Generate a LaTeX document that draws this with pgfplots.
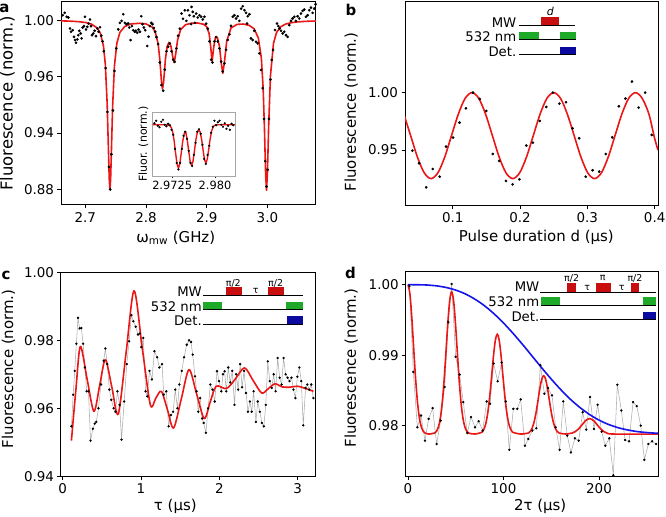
\documentclass[border=0pt]{standalone}
\usepackage{fontspec}
\setmainfont{DejaVu Sans}
\usepackage{pgfplots}
\pgfplotsset{compat=1.18}

\definecolor{fitred}{RGB}{235,22,22}
\definecolor{envblue}{RGB}{20,20,235}
\definecolor{pulsered}{RGB}{200,14,14}
\definecolor{pulsegreen}{RGB}{30,170,40}
\definecolor{pulseblue}{RGB}{10,10,160}
\newcommand\pl{\fontsize{13.3}{15}\selectfont}
\newcommand\ps{\fontsize{9.5}{11}\selectfont}

\pgfplotsset{
  panel/.style={
    scale only axis, anchor=south west,
    axis line style={line width=1bp},
    tick style={line width=0.8bp, black},
    major tick length=3.5bp,
    tick align=outside,
    xtick pos=bottom, ytick pos=left,
    tick label style={font=\fontsize{13.5}{16}\selectfont},
    label style={font=\fontsize{15}{18}\selectfont},
  },
  fit/.style={fitred, line width=1.6bp, no marks, line join=round},
  dots/.style={only marks, mark=*, mark size=1.15bp, mark options={fill=black, draw=black}},
  trace/.style={gray!65, line width=0.55bp, mark=*, mark size=0.9bp, mark options={fill=black, draw=black}},
}

\begin{document}
\begin{tikzpicture}
\useasboundingbox (0,0) rectangle (666bp,517bp);

% ---------------- panel a ----------------
\begin{axis}[panel, at={(61bp,312bp)}, width=255bp, height=203bp,
  xmin=2.66, xmax=3.08, ymin=0.869, ymax=1.0129,
  xtick={2.7,2.8,2.9,3.0}, xticklabels={2.7,2.8,2.9,3.0},
  ytick={0.88,0.92,0.96,1.00}, yticklabels={0.88,0.94,0.96,1.00},
  xlabel={ω\textsubscript{mw} (GHz)}, ylabel={Fluorescence (norm.)},
  xlabel style={at={(axis description cs:0.45,-0.161)}, anchor=center},
  ylabel style={at={(axis description cs:-0.21,0.5)}, anchor=center, font=\fontsize{16.5}{19}\selectfont},
]
\addplot[fit] coordinates {
  (2.66,0.99952) (2.67,0.9994) (2.68,0.99921) (2.69,0.99891) (2.70,0.99838)
  (2.71,0.99728) (2.72,0.99434) (2.725,0.9906) (2.73,0.98151) (2.733,0.96872)
  (2.736,0.94129) (2.738,0.9101) (2.7395,0.88691) (2.7406,0.88017) (2.7417,0.88691)
  (2.743,0.90665) (2.745,0.93862) (2.748,0.96748) (2.752,0.98363) (2.757,0.99135)
  (2.765,0.99555) (2.775,0.99731) (2.79,0.99783) (2.80,0.99732) (2.81,0.99518)
  (2.815,0.992) (2.82,0.98331) (2.823,0.97095) (2.8255,0.95624) (2.8272,0.95117)
  (2.829,0.95619) (2.832,0.97237) (2.835,0.98163) (2.838,0.98432) (2.841,0.98182)
  (2.844,0.9741) (2.8464,0.96996) (2.849,0.97625) (2.852,0.9859) (2.857,0.99331)
  (2.865,0.99676) (2.875,0.99788) (2.885,0.99799) (2.895,0.9971) (2.90,0.99533)
  (2.904,0.99049) (2.9065,0.98133) (2.9089,0.97065) (2.9115,0.98084) (2.9145,0.9881)
  (2.9175,0.98787) (2.921,0.98137) (2.924,0.96936) (2.9265,0.96238) (2.929,0.96972)
  (2.933,0.98526) (2.94,0.99448) (2.95,0.99704) (2.96,0.99729) (2.97,0.99635)
  (2.978,0.99389) (2.985,0.98749) (2.99,0.97321) (2.993,0.95136) (2.995,0.9247)
  (2.997,0.89143) (2.9985,0.87943) (3.0,0.8915) (3.002,0.9247) (3.005,0.96065)
  (3.01,0.98365) (3.015,0.99129) (3.022,0.99539) (3.03,0.99725) (3.04,0.9983)
  (3.05,0.99881) (3.06,0.99911) (3.07,0.9993) (3.08,0.99942)
};
\addplot[dots] coordinates {
  (2.6628,1.0035) (2.6661,1.0052) (2.6694,1.0024) (2.6721,1.0019) (2.6748,0.9941)
  (2.6765,0.9918) (2.6792,0.9929) (2.6814,0.9882) (2.6831,0.9859) (2.6847,0.9840)
  (2.6869,0.9864) (2.6885,0.9894) (2.6902,0.9925) (2.6924,0.9906) (2.6940,0.9871)
  (2.6957,0.9948) (2.6979,0.9958) (2.6995,1.0024) (2.7011,0.9934) (2.7033,0.9953)
  (2.7055,0.9976) (2.7077,1.0005) (2.7094,0.9958) (2.7110,0.9894) (2.7132,0.9906)
  (2.7154,0.9925) (2.7176,0.9887) (2.7198,0.9941) (2.7220,0.9918) (2.7242,0.9950)
  (2.7264,0.9890) (2.7285,0.9850) (2.7305,0.9780) (2.7335,0.9660) (2.7365,0.9350)
  (2.7390,0.8960) (2.7410,0.8800) (2.7430,0.9050) (2.7455,0.9360) (2.7480,0.9640)
  (2.7510,0.9800) (2.7543,0.9935) (2.7570,0.9981) (2.7598,0.9995) (2.7625,1.0042)
  (2.7653,0.9981) (2.7680,0.9972) (2.7707,0.9977) (2.7724,0.9948) (2.7746,0.9859)
  (2.7768,0.9958) (2.7790,0.9929) (2.7817,0.9918) (2.7833,0.9925) (2.7855,0.9911)
  (2.7877,0.9934) (2.7899,0.9918) (2.7921,1.0028) (2.7943,0.9972) (2.7965,0.9948)
  (2.7987,0.9929) (2.8020,0.9817) (2.8042,0.9883) (2.8064,0.9958) (2.8086,0.9981)
  (2.8107,0.9972) (2.8129,0.9945) (2.8151,0.9918) (2.8173,0.9880) (2.8200,0.9830)
  (2.8228,0.9700) (2.8255,0.9540) (2.8283,0.9500) (2.8310,0.9650) (2.8338,0.9780)
  (2.8365,0.9812) (2.8392,0.9835) (2.8420,0.9780) (2.8447,0.9720) (2.8472,0.9705)
  (2.8500,0.9800) (2.8529,0.9890) (2.8557,0.9940) (2.8585,1.0047) (2.8610,1.0010)
  (2.8640,1.0070) (2.8665,0.9995) (2.8690,1.0070) (2.8716,1.0035) (2.8744,0.9972)
  (2.8750,1.0094) (2.8770,1.0059) (2.8788,1.0028) (2.8805,0.9981) (2.8826,1.0047)
  (2.8853,1.0019) (2.8881,1.0035) (2.8908,1.0024) (2.8936,1.0005) (2.8963,1.0024)
  (2.8990,0.9975) (2.9018,0.9940) (2.9045,0.9850) (2.9073,0.9720) (2.9095,0.9700)
  (2.9127,0.9850) (2.9155,0.9880) (2.9182,0.9850) (2.9210,0.9800) (2.9237,0.9706)
  (2.9264,0.9636) (2.9292,0.9694) (2.9319,0.9790) (2.9347,0.9860) (2.9374,0.9900)
  (2.9400,0.9960) (2.9429,1.0024) (2.9456,1.0035) (2.9484,1.0012) (2.9511,1.0028)
  (2.9538,0.9995) (2.9566,1.0082) (2.9593,1.0099) (2.9621,1.0071) (2.9648,1.0052)
  (2.9664,0.9976) (2.9675,1.0028) (2.9703,1.0042) (2.9730,0.9871) (2.9758,0.9859)
  (2.9785,0.9925) (2.9812,0.9847) (2.9840,0.9836) (2.9867,0.9765) (2.9895,0.9647)
  (2.9922,0.9518) (2.9945,0.9300) (2.9965,0.9000) (2.9985,0.8820) (3.0005,0.8940)
  (3.0025,0.9300) (3.0050,0.9580) (3.0070,0.9718) (3.0092,0.9789) (3.0125,0.9930)
  (3.0158,0.9976) (3.0180,0.9958) (3.0201,0.9941) (3.0223,0.9925) (3.0251,0.9906)
  (3.0278,0.9918) (3.0306,0.9894) (3.0333,0.9882) (3.0360,0.9965) (3.0388,0.9995)
  (3.0415,1.0012) (3.0443,1.0024) (3.0470,0.9995) (3.0497,1.0028) (3.0525,1.0012)
  (3.0552,1.0047) (3.0580,1.0066) (3.0607,1.0075) (3.0634,1.0024) (3.0662,1.0035)
  (3.0689,1.0071) (3.0717,1.0089) (3.0744,1.0052) (3.0771,1.0082) (3.0793,1.0113)
};
\end{axis}

% inset of panel a
\begin{axis}[scale only axis, anchor=south west, at={(152.7bp,341bp)},
  width=82.3bp, height=63.3bp,
  xmin=2.9691, xmax=2.9835, ymin=0, ymax=63,
  axis background/.style={fill=white},
  axis line style={gray!70, line width=0.8bp},
  tick style={line width=0.6bp, black}, major tick length=2.5bp, tick align=outside,
  xtick pos=bottom, ytick=\empty,
  xtick={2.9725,2.980}, xticklabels={2.9725,2.980},
  tick label style={font=\fontsize{11.4}{13}\selectfont},
  xticklabel style={yshift=1bp},
  ylabel={Fluor. (norm.)},
  ylabel style={at={(axis description cs:-0.114,0.505)}, anchor=center, font=\fontsize{11}{13}\selectfont},
]
\addplot[fit, line width=1.4bp] coordinates {
  (2.9691,51) (2.9710,51) (2.9716,50.97) (2.9721,50.2) (2.97235,48.3) (2.9726,43.7)
  (2.97285,35.1) (2.9731,23.2) (2.97335,12.25) (2.9736,7.7) (2.97385,12.2) (2.9741,23.1)
  (2.97435,34.5) (2.9746,41.66) (2.97475,44.43) (2.9749,43.33) (2.97515,35.83)
  (2.9754,24.88) (2.97565,14.57) (2.9759,10.3) (2.97615,14.57) (2.9764,24.88)
  (2.97665,35.86) (2.9769,43.42) (2.97715,46.09) (2.9774,43.79) (2.97765,36.73)
  (2.9779,26.42) (2.97815,16.72) (2.9784,12.7) (2.97865,16.72) (2.9789,26.45)
  (2.97915,36.91) (2.9794,44.53) (2.97965,48.62) (2.9799,50.3) (2.98015,50.84)
  (2.9804,51) (2.9835,51)
};
\addplot[dots, mark size=0.9bp] coordinates {
  (2.9694,52.5) (2.9697,55) (2.9700,50) (2.9703,48.5) (2.9706,54) (2.9709,56)
  (2.9712,51) (2.9715,49.5) (2.9718,52) (2.9721,50.5) (2.9724,46) (2.9727,41)
  (2.9730,27) (2.9733,13) (2.9736,6.5) (2.9739,13) (2.9742,27) (2.9745,40)
  (2.9748,44) (2.9751,37) (2.9754,25) (2.9757,13) (2.9760,10) (2.9763,21)
  (2.9766,33) (2.9769,44) (2.9772,46.5) (2.9775,42) (2.9778,31) (2.9781,17)
  (2.9784,12) (2.9787,21) (2.9790,30) (2.9793,43) (2.9796,49) (2.9799,55)
  (2.9802,50.5) (2.9805,53.5) (2.9808,55) (2.9811,51) (2.9814,49) (2.9817,52.5)
  (2.9820,47) (2.9823,50) (2.9826,46) (2.9829,52) (2.9832,50.5)
};
\end{axis}

% ---------------- panel b ----------------
\begin{axis}[panel, at={(405bp,311.3bp)}, width=253bp, height=203.7bp,
  xmin=0.029, xmax=0.405, ymin=0.9014, ymax=1.079,
  xtick={0.1,0.2,0.3,0.4}, xticklabels={0.1,0.2,0.3,0.4},
  ytick={0.95,1.00}, yticklabels={0.95,1.00},
  xlabel={Pulse duration d (µs)}, ylabel={Fluorescence (norm.)},
  xlabel style={at={(axis description cs:0.519,-0.155)}, anchor=center},
  ylabel style={at={(axis description cs:-0.213,0.46)}, anchor=center},
]
\addplot[fit, smooth] coordinates {
  (0.02725,0.98125) (0.037375,0.9625) (0.0475,0.94375) (0.057625,0.93002) (0.06775,0.925)
  (0.077875,0.93002) (0.088,0.94375) (0.098125,0.9625) (0.10825,0.98125) (0.118375,0.99498)
  (0.1285,1.0) (0.138625,0.99498) (0.14875,0.98125) (0.158875,0.9625) (0.169,0.94375)
  (0.179125,0.93002) (0.18925,0.925) (0.199375,0.93002) (0.2095,0.94375) (0.219625,0.9625)
  (0.22975,0.98125) (0.239875,0.99498) (0.25,1.0) (0.260125,0.99498) (0.27025,0.98125)
  (0.280375,0.9625) (0.2905,0.94375) (0.300625,0.93002) (0.31075,0.925) (0.320875,0.93002)
  (0.331,0.94375) (0.341125,0.9625) (0.35125,0.98125) (0.361375,0.99498) (0.3715,1.0)
  (0.3815,0.99498) (0.3915,0.98125) (0.4,0.9600) (0.405,0.9500)
};
\addplot[dots] coordinates {
  (0.040,0.9494) (0.050,0.9384) (0.0605,0.9174) (0.0702,0.9334) (0.0805,0.9267)
  (0.090,0.9529) (0.1005,0.9608) (0.110,0.9738) (0.1195,0.9863) (0.130,1.000)
  (0.140,0.9945) (0.1498,0.984) (0.1595,0.9465) (0.169,0.9404) (0.179,0.923)
  (0.189,0.920) (0.199,0.9244) (0.2093,0.9538) (0.219,0.9564) (0.2293,0.9753)
  (0.239,0.9875) (0.2488,1.000) (0.2585,0.9904) (0.2683,0.9916) (0.278,0.9689)
  (0.2878,0.9602) (0.2976,0.9267) (0.3078,0.9323) (0.3176,0.9311) (0.3273,0.9465)
  (0.337,0.961) (0.3468,0.9881) (0.3566,0.9948) (0.3663,1.0096) (0.3761,0.9869)
  (0.3859,1.000) (0.3956,0.9631)
};
\end{axis}

% ---------------- panel c ----------------
\begin{axis}[panel, at={(61bp,40.7bp)}, width=254bp, height=204bp,
  xmin=-0.02, xmax=3.22, ymin=0.94, ymax=1.00,
  xtick={0,1,2,3}, xticklabels={0,1,2,3},
  ytick={0.94,0.96,0.98,1.00}, yticklabels={0.94,0.96,0.98,1.00},
  xlabel={τ (µs)}, ylabel={Fluorescence (norm.)},
  xlabel style={at={(axis description cs:0.45,-0.147)}, anchor=center},
  ylabel style={at={(axis description cs:-0.207,0.527)}, anchor=center},
]
\addplot[trace] coordinates {
  (0.113,0.9547) (0.135,0.9640) (0.155,0.9710) (0.176,0.9790) (0.197,0.9866)
  (0.218,0.9835) (0.24,0.9836) (0.262,0.9790) (0.285,0.9720) (0.307,0.9650)
  (0.330,0.9650) (0.357,0.9505) (0.387,0.9540) (0.410,0.9555) (0.43,0.9560)
  (0.458,0.9600) (0.49,0.9670) (0.525,0.9740) (0.546,0.9776) (0.570,0.9730)
  (0.597,0.9655) (0.622,0.9625) (0.651,0.9600) (0.675,0.9590) (0.70,0.9650)
  (0.727,0.9610) (0.752,0.9508) (0.786,0.9620) (0.819,0.9730) (0.849,0.9797)
  (0.878,0.9874) (0.903,0.9856) (0.933,0.9840) (0.962,0.9817) (0.987,0.9820)
  (1.004,0.9780) (1.029,0.9807) (1.059,0.9650) (1.08,0.9635) (1.109,0.9710)
  (1.14,0.9685) (1.172,0.9768) (1.206,0.9750) (1.235,0.9720) (1.269,0.9730)
  (1.29,0.9640) (1.323,0.9650) (1.353,0.9547) (1.382,0.9580) (1.41,0.9590)
  (1.437,0.9655) (1.465,0.9600) (1.49,0.9670) (1.52,0.9710) (1.55,0.9750)
  (1.584,0.9787) (1.613,0.9800) (1.638,0.9795) (1.66,0.9758) (1.689,0.9694)
  (1.71,0.9650) (1.731,0.9590) (1.755,0.9630) (1.78,0.9570) (1.80,0.9557)
  (1.828,0.9528) (1.857,0.9600) (1.885,0.9670) (1.912,0.9655) (1.941,0.9620)
  (1.97,0.9709) (1.996,0.9680) (2.025,0.9650) (2.046,0.9700) (2.067,0.9709)
  (2.088,0.9650) (2.113,0.9720) (2.138,0.9676) (2.164,0.9710) (2.193,0.9610)
  (2.215,0.9700) (2.24,0.9655) (2.265,0.9730) (2.29,0.9662) (2.315,0.9710)
  (2.34,0.9645) (2.365,0.9590) (2.39,0.9620) (2.413,0.9590) (2.437,0.9650)
  (2.466,0.9560) (2.49,0.9620) (2.517,0.9590) (2.542,0.9557) (2.567,0.9547)
  (2.592,0.9610) (2.618,0.9738) (2.643,0.9680) (2.668,0.9660) (2.693,0.9700)
  (2.718,0.9650) (2.744,0.9748) (2.769,0.9690) (2.794,0.9670) (2.819,0.9748)
  (2.845,0.9700) (2.87,0.9690) (2.895,0.9680) (2.92,0.9690) (2.945,0.9655)
  (2.97,0.9630) (2.995,0.9693) (3.02,0.9720) (3.045,0.9680) (3.07,0.9550)
  (3.10,0.9660) (3.122,0.9670) (3.147,0.9655) (3.172,0.9670) (3.20,0.9630)
};
\addplot[fit, smooth] coordinates {
  (0.113,0.9505) (0.17,0.9655) (0.227,0.9782) (0.313,0.9686) (0.40,0.9591)
  (0.473,0.9667) (0.546,0.9743) (0.628,0.9663) (0.71,0.9583) (0.811,0.9765)
  (0.912,0.9946) (1.016,0.9778) (1.12,0.9610) (1.19,0.9630) (1.26,0.9650)
  (1.338,0.9596) (1.416,0.9542) (1.515,0.9628) (1.613,0.9714) (1.71,0.9642)
  (1.807,0.9570) (1.885,0.9620) (1.96,0.9665) (2.09,0.9658) (2.20,0.9685)
  (2.32,0.9719) (2.43,0.9682) (2.54,0.9645) (2.625,0.9658) (2.71,0.9672)
  (2.80,0.9663) (2.90,0.9662) (3.00,0.9665) (3.10,0.9658) (3.2,0.9650)
};
\end{axis}

% ---------------- panel d ----------------
\begin{axis}[panel, at={(405.7bp,40.7bp)}, width=252.3bp, height=205bp,
  xmin=-2.4, xmax=261.8, ymin=0.9728, ymax=1.0019,
  xtick={0,100,200}, xticklabels={0,100,200},
  ytick={0.98,0.99,1.00}, yticklabels={0.98,0.99,1.00},
  xlabel={2τ (µs)}, ylabel={Fluorescence (norm.)},
  xlabel style={at={(axis description cs:0.533,-0.146)}, anchor=center},
  ylabel style={at={(axis description cs:-0.216,0.528)}, anchor=center},
]
\addplot[trace] coordinates {
  (1.5,0.9998) (5.6,0.98762) (9.8,0.97976) (13.6,0.98143) (17.8,0.97786)
  (21.6,0.98095) (25.8,0.98248) (30.0,0.97738) (34.2,0.98071) (38.4,0.98548)
  (42.2,0.99467) (45.7,1.0001) (49.9,0.98976) (54.1,0.98724) (57.9,0.98333)
  (62.1,0.97895) (66.0,0.9812) (70.2,0.97976) (74.0,0.98062) (78.2,0.97929)
  (82.4,0.98343) (85.9,0.9831) (89.7,0.98881) (93.9,0.98629) (98.1,0.98895)
  (102.3,0.98343) (106.1,0.97657) (110.3,0.98238) (114.5,0.98238) (118.0,0.98371)
  (122.5,0.97714) (126.0,0.97810) (130.2,0.97929) (134.4,0.97962) (138.6,0.98857)
  (142.8,0.98452) (146.6,0.98533) (150.8,0.98429) (154.6,0.97976) (158.8,0.97657)
  (162.6,0.98343) (166.8,0.97857) (170.6,0.97619) (174.8,0.97819) (178.7,0.97786)
  (182.9,0.9819) (186.7,0.97943) (190.6,0.98405) (194.7,0.97952) (198.6,0.98295)
  (202.8,0.97914) (206.6,0.97714) (210.8,0.97819) (215.0,0.97295) (219.2,0.9858)
  (223.4,0.98214) (227.3,0.97795) (231.5,0.97776) (235.7,0.98333) (239.5,0.98276)
  (243.7,0.98) (247.5,0.97514) (251.7,0.97738) (255.6,0.97776) (259.8,0.97738)
};
\addplot[fit, smooth] coordinates {
  (0,1.0) (2,0.99871) (4,0.99531) (6,0.99088) (8,0.9866) (10,0.98325) (12,0.98103)
  (14,0.97979) (16,0.97919) (18,0.97893) (22,0.9788)
  (27.7,0.97893) (29.7,0.97917) (31.7,0.97975) (33.7,0.98092) (35.7,0.98304)
  (37.7,0.98623) (39.7,0.99031) (41.7,0.99454) (43.7,0.99777) (45.7,0.9990)
  (47.7,0.99777) (49.7,0.99454) (51.7,0.99031) (53.7,0.98623) (55.7,0.98304)
  (57.7,0.98092) (59.7,0.97975) (61.7,0.97917) (63.7,0.97893) (70,0.9788)
  (77.5,0.97906) (79.5,0.97946) (81.5,0.98029) (83.5,0.98178) (85.5,0.98403)
  (87.5,0.98689) (89.5,0.98986) (91.5,0.99213) (93.5,0.9930) (95.5,0.99213)
  (97.5,0.98986) (99.5,0.98689) (101.5,0.98403) (103.5,0.98178) (105.5,0.98029)
  (107.5,0.97946) (109.5,0.97906) (118,0.9788)
  (126.1,0.97895) (128.1,0.97919) (130.1,0.97967) (132.1,0.98054) (134.1,0.98185)
  (136.1,0.98353) (138.1,0.98527) (140.1,0.98659) (142.1,0.9871) (144.1,0.98659)
  (146.1,0.98527) (148.1,0.98353) (150.1,0.98185) (152.1,0.98054) (154.1,0.97967)
  (156.1,0.97919) (158.1,0.97895) (165,0.9788)
  (172.2,0.97895) (175.2,0.97914) (178.2,0.97947) (181.2,0.97993) (184.2,0.98043)
  (187.2,0.98084) (190.2,0.9810) (193.2,0.98084) (196.2,0.98043) (199.2,0.97993)
  (202.2,0.97947) (205.2,0.97914) (208.2,0.97895) (215,0.9788) (262,0.9788)
};
\addplot[envblue, line width=1.6bp, smooth, no marks] coordinates {
  (0,1.0) (10,0.99999) (20,0.99995) (30,0.99983) (40,0.9996) (50,0.99923)
  (60,0.99869) (70,0.99795) (80,0.99702) (90,0.99588) (100,0.99456) (110,0.99309)
  (120,0.99151) (130,0.98986) (140,0.9882) (150,0.9866) (160,0.9851) (170,0.98374)
  (180,0.98257) (190,0.98158) (200,0.98078) (210,0.98016) (220,0.9797) (230,0.97938)
  (240,0.97915) (250,0.97901) (262,0.9789)
};
\end{axis}

% ---------------- panel letters and pulse sequences ----------------
\begin{scope}[shift={(0bp,517bp)}, x=1bp, y=-1bp]
  \node[font=\fontsize{15}{17}\bfseries\selectfont] at (4.5,8) {a};
  \node[font=\fontsize{15}{17}\bfseries\selectfont] at (351,10) {b};
  \node[font=\fontsize{15}{17}\bfseries\selectfont] at (6,275.5) {c};
  \node[font=\fontsize{15}{17}\bfseries\selectfont] at (350.5,272.7) {d};

  % panel b sequence
  \fill[pulsered] (541.3,16.7) rectangle (559,26);
  \fill[pulsegreen] (519,31.7) rectangle (539,40);
  \fill[pulsegreen] (560.3,31.7) rectangle (576.3,40);
  \fill[pulseblue] (560.3,46.7) rectangle (576.3,55);
  \draw[line width=1bp] (519,26) -- (575.3,26);
  \draw[line width=1bp] (519,40) -- (576.3,40);
  \draw[line width=1bp] (519,55) -- (576.3,55);
  \node[font=\fontsize{11}{13}\selectfont\itshape] at (550.3,11) {d};
  \node[font=\pl, anchor=east, inner sep=0pt] at (516.5,22.3) {MW};
  \node[font=\pl, anchor=east, inner sep=0pt] at (516.5,36.2) {532 nm};
  \node[font=\pl, anchor=east, inner sep=0pt] at (516.5,51.3) {Det.};

  % panel c sequence
  \fill[pulsered] (225.7,287.3) rectangle (241.7,296);
  \fill[pulsered] (267.7,287.3) rectangle (284,296);
  \fill[pulsegreen] (202.7,301.7) rectangle (222.3,310);
  \fill[pulsegreen] (286,301.7) rectangle (303.3,310);
  \fill[pulseblue] (286.7,316) rectangle (303.3,324.3);
  \draw[line width=1bp] (203.3,296) -- (302.7,296);
  \draw[line width=1bp] (203.3,310) -- (303.3,310);
  \draw[line width=1bp] (203.3,324.3) -- (303.3,324.3);
  \node[font=\ps] at (233.3,283) {π/2};
  \node[font=\ps] at (275.7,283) {π/2};
  \node[font=\ps] at (255.7,291) {τ};
  \node[font=\pl, anchor=east, inner sep=0pt] at (202,291.8) {MW};
  \node[font=\pl, anchor=east, inner sep=0pt] at (202,306.3) {532 nm};
  \node[font=\pl, anchor=east, inner sep=0pt] at (202,320.8) {Det.};

  % panel d sequence
  \fill[pulsered] (567.3,283.3) rectangle (576,292.3);
  \fill[pulsered] (595.7,283.3) rectangle (611,292.3);
  \fill[pulsered] (630.7,283.3) rectangle (639.3,292.3);
  \fill[pulsegreen] (540.7,297.3) rectangle (560,306);
  \fill[pulsegreen] (642.7,297.3) rectangle (656,306);
  \fill[pulseblue] (642.7,312.3) rectangle (656,320);
  \draw[line width=1bp] (540,292.3) -- (656,292.3);
  \draw[line width=1bp] (540.7,306) -- (656,306);
  \draw[line width=1bp] (540,320) -- (656,320);
  \node[font=\ps] at (571.7,278.3) {π/2};
  \node[font=\ps] at (602.7,278.3) {π};
  \node[font=\ps] at (635,278.3) {π/2};
  \node[font=\ps] at (587.3,287.5) {τ};
  \node[font=\ps] at (621.7,287.5) {τ};
  \node[font=\pl, anchor=east, inner sep=0pt] at (539.5,286.2) {MW};
  \node[font=\pl, anchor=east, inner sep=0pt] at (539.5,301.3) {532 nm};
  \node[font=\pl, anchor=east, inner sep=0pt] at (539.5,316.7) {Det.};
\end{scope}
\end{tikzpicture}
\end{document}
